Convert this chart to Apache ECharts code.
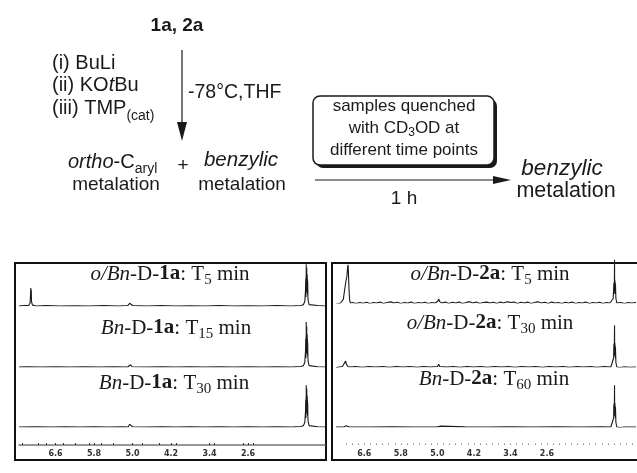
<!DOCTYPE html>
<html>
<head>
<meta charset="utf-8">
<script src="https://cdn.jsdelivr.net/npm/echarts@6/dist/echarts.min.js"></script>
<style>
  html, body { margin: 0; padding: 0; background: #fff; }
  #chart { width: 637px; height: 473px; }
</style>
</head>
<body>
<div id="chart"></div>
<script>
// tick labels of the ppm axis (both panels)
const ppmLabels = [6.6, 5.8, 5.0, 4.2, 3.4, 2.6];

// spectra: [ppm, relative intensity]
const spec1aT5 = [
  [7.36, 0], [7.25, 0.01], [7.16, 0.01], [7.13, 0.06], [7.12, 0.25], [7.115, 0.4], [7.11, 0.2],
  [7.105, 0.36], [7.10, 0.1], [7.08, 0.02], [7.0, 0], [6.8, 0.01], [6.5, 0], [6.2, 0.005],
  [5.9, 0], [5.6, 0.01], [5.3, 0], [5.1, 0.01], [5.06, 0.06], [5.04, 0.06], [5.0, 0.01],
  [4.7, 0], [4.4, 0.01], [4.1, 0], [3.8, 0.005], [3.5, 0], [3.2, 0.01], [2.9, 0], [2.6, 0.005],
  [2.3, 0], [2.0, 0.01], [1.7, 0], [1.5, 0.01], [1.45, 0.03], [1.42, 0.1], [1.405, 0.35],
  [1.40, 0.6], [1.397, 0.2], [1.394, 0.65], [1.391, 0.3], [1.39, 0.93], [1.388, 0.35], [1.385, 0.7],
  [1.382, 0.3], [1.38, 0.85], [1.377, 0.35], [1.375, 0.65], [1.372, 0.3], [1.37, 0.7], [1.367, 0.3],
  [1.365, 0.6], [1.362, 0.25], [1.36, 0.55], [1.355, 0.2], [1.35, 0.12], [1.33, 0.03], [1.30, 0],
  [1.15, 0.01], [1.0, 0]
];
const spec1aT15 = [
  [7.36, 0], [7.2, 0.005], [6.9, 0], [6.6, 0.005], [6.3, 0], [6.0, 0.005], [5.7, 0], [5.4, 0.005],
  [5.1, 0], [5.07, 0.04], [5.04, 0.05], [5.01, 0.005], [4.7, 0], [4.4, 0.005], [4.1, 0], [3.8, 0.005],
  [3.5, 0], [3.2, 0.005], [2.9, 0], [2.6, 0.005], [2.3, 0], [2.0, 0.005], [1.7, 0], [1.5, 0.01],
  [1.45, 0.03], [1.42, 0.1], [1.405, 0.35], [1.40, 0.62], [1.397, 0.2], [1.394, 0.68], [1.391, 0.3],
  [1.39, 1.0], [1.388, 0.35], [1.385, 0.72], [1.382, 0.3], [1.38, 0.9], [1.377, 0.35], [1.375, 0.68],
  [1.372, 0.3], [1.37, 0.72], [1.367, 0.3], [1.365, 0.62], [1.362, 0.25], [1.36, 0.55], [1.355, 0.2],
  [1.35, 0.12], [1.33, 0.03], [1.30, 0], [1.15, 0.005], [1.0, 0]
];
const spec1aT30 = [
  [7.36, 0], [7.0, 0.005], [6.7, 0], [6.4, 0.005], [6.1, 0], [5.8, 0.005], [5.5, 0], [5.2, 0.005],
  [5.09, 0], [5.06, 0.06], [5.03, 0.06], [5.0, 0.005], [4.7, 0], [4.4, 0.005], [4.1, 0], [3.8, 0.005],
  [3.5, 0], [3.2, 0.005], [2.9, 0], [2.6, 0.005], [2.3, 0], [2.0, 0.005], [1.7, 0], [1.5, 0.01],
  [1.45, 0.03], [1.42, 0.1], [1.405, 0.35], [1.40, 0.6], [1.397, 0.2], [1.394, 0.65], [1.391, 0.3],
  [1.39, 0.93], [1.388, 0.35], [1.385, 0.7], [1.382, 0.3], [1.38, 0.86], [1.377, 0.35], [1.375, 0.65],
  [1.372, 0.3], [1.37, 0.7], [1.367, 0.3], [1.365, 0.6], [1.362, 0.25], [1.36, 0.55], [1.355, 0.2],
  [1.35, 0.12], [1.33, 0.03], [1.30, 0], [1.15, 0.005], [1.0, 0]
];
const spec2aT5 = [
  [7.22, -0.03], [7.18, -0.01], [7.12, 0], [7.08, 0.02], [7.06, 0.08], [7.03, 0.3], [7.0, 0.5],
  [6.98, 0.6], [6.965, 0.8], [6.955, 0.85], [6.945, 0.6], [6.935, 0.3], [6.92, 0.05], [6.9, 0],
  [6.85, 0.01], [6.78, -0.01], [6.7, 0.01], [6.62, -0.005], [6.55, 0.015], [6.48, -0.01], [6.4, 0.01],
  [6.33, 0], [6.25, 0.02], [6.18, -0.01], [6.1, 0.01], [6.02, 0.025], [5.95, 0], [5.88, 0.015],
  [5.8, -0.01], [5.72, 0.01], [5.65, 0], [5.57, 0.02], [5.5, -0.01], [5.42, 0.01], [5.35, 0],
  [5.27, 0.015], [5.2, -0.01], [5.12, 0.01], [5.05, 0], [4.99, 0.04], [4.97, 0.09], [4.95, 0.03],
  [4.9, 0], [4.82, 0.02], [4.75, -0.01], [4.67, 0.015], [4.6, 0], [4.52, 0.02], [4.45, -0.01],
  [4.37, 0.01], [4.3, 0.03], [4.22, 0], [4.15, 0.02], [4.07, -0.01], [4.0, 0.01], [3.92, 0.02],
  [3.85, 0], [3.77, 0.015], [3.7, -0.01], [3.62, 0.02], [3.55, 0], [3.47, 0.03], [3.4, 0.01],
  [3.32, 0.02], [3.25, -0.01], [3.17, 0.015], [3.1, 0], [3.02, 0.02], [2.95, -0.01], [2.87, 0.01],
  [2.8, 0.03], [2.72, 0], [2.65, 0.015], [2.57, -0.01], [2.5, 0.02], [2.42, 0], [2.35, 0.01],
  [2.27, -0.01], [2.2, 0.015], [2.12, 0], [2.05, 0.02], [1.97, -0.01], [1.9, 0.01], [1.82, 0],
  [1.75, 0.02], [1.67, -0.01], [1.6, 0.01], [1.52, 0], [1.45, 0.015], [1.37, -0.01], [1.3, 0.01],
  [1.22, 0], [1.18, 0.02], [1.15, 0.1], [1.14, 0.3], [1.135, 0.45], [1.132, 0.2], [1.128, 0.45],
  [1.125, 0.25], [1.12, 0.96], [1.117, 0.3], [1.115, 0.48], [1.112, 0.25], [1.11, 0.5], [1.107, 0.25],
  [1.105, 0.45], [1.102, 0.2], [1.10, 0.42], [1.09, 0.1], [1.07, 0], [1.03, -0.02], [0.98, 0.01],
  [0.9, -0.01], [0.82, 0.01], [0.74, 0], [0.65, 0.01]
];
const spec2aT30 = [
  [7.22, -0.02], [7.15, 0], [7.08, 0.01], [7.04, 0.05], [7.01, 0.13], [6.99, 0.06], [6.96, 0.01],
  [6.9, 0], [6.8, 0.01], [6.65, -0.005], [6.5, 0.01], [6.35, 0], [6.2, 0.01], [6.05, -0.005],
  [5.9, 0.01], [5.75, 0], [5.6, 0.01], [5.45, -0.005], [5.3, 0.01], [5.15, 0], [5.0, 0.01],
  [4.97, 0.06], [4.95, 0.01], [4.8, 0], [4.65, 0.01], [4.5, -0.005], [4.35, 0.01], [4.2, 0],
  [4.05, 0.01], [3.9, -0.005], [3.75, 0.01], [3.6, 0], [3.45, 0.01], [3.3, -0.005], [3.15, 0.01],
  [3.0, 0], [2.85, 0.01], [2.7, -0.005], [2.55, 0.01], [2.4, 0], [2.25, 0.01], [2.1, -0.005],
  [1.95, 0.01], [1.8, 0], [1.65, 0.01], [1.5, -0.005], [1.35, 0.01], [1.2, 0], [1.16, 0.03],
  [1.14, 0.2], [1.135, 0.5], [1.132, 0.25], [1.128, 0.53], [1.125, 0.3], [1.12, 0.93], [1.117, 0.3],
  [1.115, 0.5], [1.112, 0.25], [1.11, 0.53], [1.107, 0.25], [1.105, 0.45], [1.102, 0.2], [1.10, 0.45],
  [1.09, 0.1], [1.07, 0], [1.0, -0.01], [0.9, 0.005], [0.8, -0.005], [0.65, 0]
];
const spec2aT60 = [
  [7.22, 0], [7.05, 0], [7.0, 0.03], [6.97, 0.03], [6.93, 0], [6.5, 0], [6.0, 0.003], [5.5, 0],
  [5.0, 0.003], [4.92, 0.02], [4.88, 0], [4.4, 0.003], [3.9, 0], [3.4, 0.003], [2.9, 0], [2.4, 0.003],
  [1.9, 0], [1.4, 0.003], [1.2, 0], [1.16, 0.03], [1.14, 0.2], [1.135, 0.5], [1.132, 0.25],
  [1.128, 0.53], [1.125, 0.3], [1.12, 0.93], [1.117, 0.3], [1.115, 0.5], [1.112, 0.25], [1.11, 0.53],
  [1.107, 0.25], [1.105, 0.45], [1.102, 0.2], [1.10, 0.45], [1.09, 0.1], [1.07, 0],
  [1.0, -0.01], [0.9, 0], [0.65, 0]
];

const chart = echarts.init(document.getElementById('chart'));

const H = 45;
const leftBase = [306, 367, 427];
const rightBase = [303, 367, 427];
const leftSpectra = [spec1aT5, spec1aT15, spec1aT30];
const rightSpectra = [spec2aT5, spec2aT30, spec2aT60];

// minor tick positions of the right panel axis (dotted)
const rightMinor = [];
for (let v = 7.0; v > 0.7; v -= 0.8 / 6) rightMinor.push(+v.toFixed(3));
const leftMinor = [7.3, 6.95, 6.8, 6.6, 6.45, 6.2, 5.9, 5.8, 5.65, 5.4, 5.0, 4.8, 4.45, 4.2, 4.1, 3.4, 3.3, 2.7, 2.6, 2.5];

const grids = [], xAxes = [], yAxes = [], series = [];
function addRow(left, width, base, min, max, data, bottom, panel) {
  const i = grids.length;
  grids.push({ left: left, width: width, top: base - H, height: H });
  xAxes.push({
    gridIndex: i, type: 'value', inverse: true, min: min, max: max,
    show: bottom, position: 'bottom', offset: 18,
    splitLine: { show: false },
    axisLine: { show: panel === 'L', onZero: false, lineStyle: { color: '#777', width: 1.5 } },
    axisTick: {
      show: true, inside: true, length: panel === 'L' ? 2 : 1.5,
      customValues: panel === 'L' ? leftMinor : rightMinor,
      lineStyle: { color: panel === 'L' ? '#333' : '#888', width: 1 }
    },
    axisLabel: {
      customValues: ppmLabels, formatter: v => v.toFixed(1), margin: 5,
      fontSize: 8, fontWeight: 'bold', color: '#333', fontFamily: 'DejaVu Sans'
    }
  });
  yAxes.push({ gridIndex: i, type: 'value', min: 0, max: 1, show: false });
  series.push({
    type: 'line', xAxisIndex: i, yAxisIndex: i, data: data, showSymbol: false,
    lineStyle: { color: '#1a1a1a', width: 1.1 }, animation: false, silent: true
  });
}
leftBase.forEach((b, k) => addRow(19, 306, b, 1.0, 7.36, leftSpectra[k], k === 2, 'L'));
rightBase.forEach((b, k) => addRow(336, 300, b, 0.65, 7.22, rightSpectra[k], k === 2, 'R'));

const sans = 'Liberation Sans';
const serif = 'Liberation Serif';
function txt(x, y, text, size, align, rich, extra) {
  return {
    type: 'text', x: x, y: y, silent: true,
    style: Object.assign({
      text: text, align: align || 'left', verticalAlign: 'middle',
      fontFamily: sans, fontSize: size, fill: '#1a1a1a', rich: rich || {}
    }, extra || {})
  };
}
// s = subscript, lowered by shrinking its box and pinning it to the line bottom
function schemeRich(size, subH) {
  return {
    i: { fontFamily: sans, fontSize: size, fontStyle: 'italic', fill: '#1a1a1a' },
    n: { fontFamily: sans, fontSize: size, fill: '#1a1a1a' },
    s: { fontFamily: sans, fontSize: Math.round(size * 0.72), fill: '#1a1a1a', verticalAlign: 'bottom', height: subH }
  };
}
const specRich = {
  i: { fontFamily: serif, fontSize: 21, fontStyle: 'italic', fill: '#1a1a1a' },
  n: { fontFamily: serif, fontSize: 21, fill: '#1a1a1a' },
  b: { fontFamily: serif, fontSize: 21, fontWeight: 'bold', fill: '#1a1a1a' },
  s: { fontFamily: serif, fontSize: 15, fill: '#1a1a1a', verticalAlign: 'bottom', height: 9 }
};

const graphic = [
  // scheme
  txt(177, 26, '1a, 2a', 19, 'center', null, { fontWeight: 'bold' }),
  txt(52, 63, '(i) BuLi', 20),
  txt(52, 85, '{n|(ii) KO}{i|t}{n|Bu}', 20, 'left', schemeRich(20, 4)),
  txt(52, 108, '{n|(iii) TMP}{s|(cat)}', 20, 'left', schemeRich(20, 4)),
  { type: 'line', silent: true, shape: { x1: 182, y1: 50, x2: 182, y2: 126 }, style: { stroke: '#1a1a1a', lineWidth: 1.2 } },
  { type: 'polygon', silent: true, shape: { points: [[177, 122], [187, 122], [182, 141]] }, style: { fill: '#1a1a1a' } },
  txt(188, 93, '-78°C,THF', 19.5),
  txt(68, 162, '{i|ortho}{n|-C}{s|aryl}', 20, 'left', schemeRich(20, 5)),
  txt(183, 166, '+', 19, 'center'),
  txt(116, 185, 'metalation', 19, 'center'),
  txt(241, 160, '{i|benzylic}', 20, 'center', schemeRich(20.5, 4)),
  txt(242, 185, 'metalation', 19, 'center'),
  { type: 'rect', silent: true, shape: { x: 316, y: 99, width: 181, height: 69, r: 7 }, style: { fill: '#1a1a1a' } },
  { type: 'rect', silent: true, shape: { x: 313, y: 96, width: 181, height: 69, r: 7 }, style: { fill: '#fff', stroke: '#1a1a1a', lineWidth: 1.5 } },
  txt(404, 106, 'samples quenched', 17, 'center'),
  txt(404, 128, '{n|with CD}{s|3}{n|OD at}', 17, 'center', schemeRich(17, 8)),
  txt(404, 150, 'different time points', 17, 'center'),
  { type: 'line', silent: true, shape: { x1: 315, y1: 180, x2: 497, y2: 180 }, style: { stroke: '#1a1a1a', lineWidth: 1.2 } },
  { type: 'polygon', silent: true, shape: { points: [[493, 176], [511, 180], [493, 184]] }, style: { fill: '#1a1a1a' } },
  txt(404, 199, '1 h', 19, 'center'),
  txt(562, 169, '{i|benzylic}', 22, 'center', schemeRich(22.5, 4)),
  txt(566, 191, 'metalation', 21.5, 'center'),
  // panel frames
  { type: 'rect', silent: true, shape: { x: 15, y: 263, width: 311, height: 197 }, style: { fill: 'none', stroke: '#111', lineWidth: 2 } },
  { type: 'rect', silent: true, shape: { x: 332, y: 263, width: 312, height: 197 }, style: { fill: 'none', stroke: '#111', lineWidth: 2 } },
  // spectrum labels
  txt(170, 274, '{i|o/Bn}{n|-D-}{b|1a}{n|: T}{s|5}{n| min}', 21, 'center', specRich),
  txt(176, 328, '{i|Bn}{n|-D-}{b|1a}{n|: T}{s|15}{n| min}', 21, 'center', specRich),
  txt(174, 383, '{i|Bn}{n|-D-}{b|1a}{n|: T}{s|30}{n| min}', 21, 'center', specRich),
  txt(490, 274, '{i|o/Bn}{n|-D-}{b|2a}{n|: T}{s|5}{n| min}', 21, 'center', specRich),
  txt(490, 323, '{i|o/Bn}{n|-D-}{b|2a}{n|: T}{s|30}{n| min}', 21, 'center', specRich),
  txt(494, 379, '{i|Bn}{n|-D-}{b|2a}{n|: T}{s|60}{n| min}', 21, 'center', specRich)
];

chart.setOption({
  backgroundColor: '#fff',
  animation: false,
  grid: grids,
  xAxis: xAxes,
  yAxis: yAxes,
  series: series,
  graphic: graphic
});
</script>
</body>
</html>
